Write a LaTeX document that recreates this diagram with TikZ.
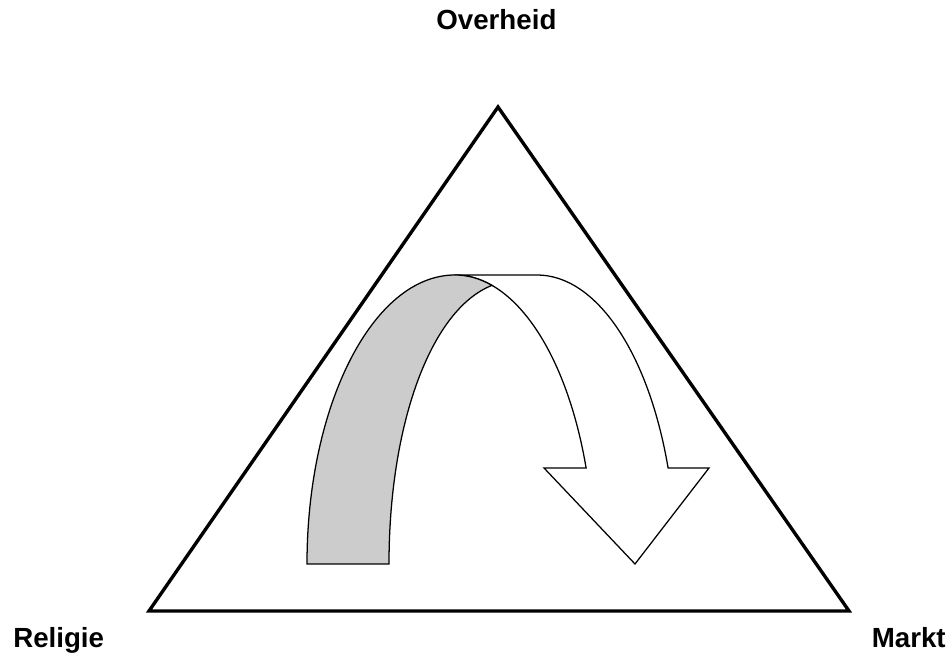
\documentclass[tikz,border=0pt]{standalone}
\usepackage{fontspec}
\setmainfont{Liberation Sans}
\usetikzlibrary{positioning,calc}
\definecolor{bandgray}{RGB}{204,204,204}
\definecolor{lineblack}{RGB}{0,0,0}

\begin{document}
\begin{tikzpicture}[font=\fontsize{19.7}{23}\selectfont\bfseries,
  corner/.style={anchor=base,inner sep=0pt},
  ribbon/.style={draw=lineblack,line width=0.9pt,line join=miter}]
\useasboundingbox (0,0) rectangle (23.725,16.35);
% ---------------- triangle ----------------
\coordinate (top)   at (12.45,13.675);
\coordinate (left)  at (3.725,1.075);
\coordinate (right) at (21.225,1.075);
\draw[lineblack,line width=2.4pt,line join=miter] (top)--(right)--(left)--cycle;
\node[corner] (overheid) at (12.41,15.6) {Overheid};
\node[corner,anchor=base west] (religie) at (0.325,0.15) {Religie};
\node[corner,anchor=base east] (markt) at (23.65,0.15) {Markt};
% ---------------- curved arrow ----------------
% back side of the band, ending in the head
\filldraw[ribbon,fill=white] (11.375,9.475) -- (13.425,9.475)
   arc[start angle=90,end angle=19.4,x radius=3.475cm,y radius=7.225cm]
   -- (17.725,4.65) -- (15.875,2.25) -- (13.6,4.65) -- (14.653,4.65)
   arc[start angle=19.4,end angle=90,x radius=3.475cm,y radius=7.225cm]
   -- cycle;
% shaded front side
\filldraw[ribbon,fill=bandgray] (7.675,2.25)
   arc[start angle=180,end angle=90,x radius=3.7cm,y radius=7.225cm]
   arc[start angle=90,end angle=74.6,x radius=3.475cm,y radius=7.225cm]
   .. controls (10.75,8.6) and (9.725,5.7) .. (9.725,2.25)
   -- cycle;
\end{tikzpicture}
\end{document}
